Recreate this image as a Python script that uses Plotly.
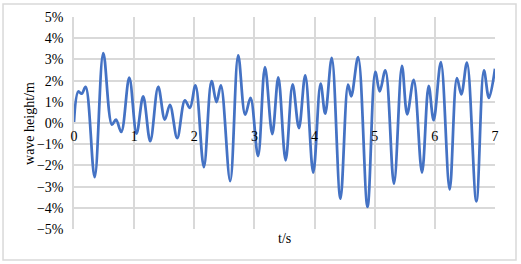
import plotly.graph_objects as go

# time (s) and wave height (%)
t = [0.0, 0.072, 0.127, 0.193, 0.343, 0.487, 0.631, 0.698, 0.786, 0.919, 1.04, 1.15,
     1.268, 1.40, 1.51, 1.595, 1.716, 1.844, 1.927, 2.02, 2.159, 2.287, 2.37, 2.442,
     2.597, 2.73, 2.846, 2.935, 3.06, 3.175, 3.297, 3.397, 3.519, 3.635, 3.74, 3.845,
     3.978, 4.10, 4.177, 4.286, 4.43, 4.557, 4.61, 4.724, 4.88, 5.01, 5.083, 5.177,
     5.32, 5.453, 5.54, 5.648, 5.786, 5.897, 5.98, 6.10, 6.246, 6.367, 6.44, 6.534,
     6.69, 6.816, 6.899, 7.0]
h = [0.05, 1.49, 1.38, 1.70, -2.55, 3.30, -0.08, 0.16, -0.42, 2.14, -0.50, 1.26,
     -0.86, 1.71, 0.16, 0.86, -0.71, 1.07, 0.71, 1.78, -2.08, 1.97, 0.99, 1.78,
     -2.74, 3.19, 0.39, 1.18, -1.56, 2.64, -0.52, 2.15, -1.76, 1.82, -0.24, 2.25,
     -2.34, 1.86, 0.44, 3.07, -3.57, 1.81, 1.26, 3.11, -3.96, 2.41, 1.49, 2.48,
     -2.86, 2.69, 0.41, 2.04, -2.34, 1.75, 0.13, 2.87, -3.13, 2.12, 1.35, 2.85,
     -3.70, 2.48, 1.18, 2.56]

x_ticks = [0, 1, 2, 3, 4, 5, 6, 7]
y_ticks = [-5, -4, -3, -2, -1, 0, 1, 2, 3, 4, 5]

FONT = "Liberation Serif"
GRID = "#d9d9d9"
FS = 14

fig = go.Figure()
fig.add_trace(go.Scatter(x=t, y=h, mode="lines",
                         line=dict(color="#4472C4", width=2.75, shape="spline", smoothing=1.0),
                         hoverinfo="skip"))

fig.update_layout(
    width=521, height=264,
    margin=dict(l=74, r=26, t=17, b=35, autoexpand=False),
    paper_bgcolor="white", plot_bgcolor="white",
    showlegend=False,
    font=dict(family=FONT, size=FS, color="#000000"),
    xaxis=dict(range=[0, 7], tickvals=x_ticks, ticktext=[str(v) for v in x_ticks],
               showgrid=True, gridcolor=GRID, gridwidth=1.5,
               zeroline=False, showline=False, ticks="",
               anchor="free", position=0.5, automargin=False,
               ticklabelstandoff=3,
               tickfont=dict(family=FONT, size=FS, color="#000000")),
    yaxis=dict(range=[-5, 5], tickvals=y_ticks,
               ticktext=[("\u2212" if v < 0 else "") + f"{abs(v)}%" for v in y_ticks],
               showgrid=True, gridcolor=GRID, gridwidth=1.5,
               zeroline=True, zerolinecolor=GRID, zerolinewidth=1.5,
               showline=True, linecolor=GRID, linewidth=1.5,
               ticks="", automargin=False, ticklabelstandoff=6,
               tickfont=dict(family=FONT, size=FS, color="#000000")),
)

fig.add_annotation(text="t/s", xref="paper", yref="paper", x=0.5, y=-0.047,
                   xanchor="center", yanchor="middle", showarrow=False,
                   font=dict(family=FONT, size=FS, color="#000000"))
fig.add_annotation(text="wave height/m", xref="paper", yref="paper", x=-0.107, y=0.5,
                   xanchor="center", yanchor="middle", textangle=-90, showarrow=False,
                   font=dict(family=FONT, size=FS, color="#000000"))

fig.add_shape(type="rect", xref="paper", yref="paper",
              x0=-0.1686, x1=1.0499, y0=-0.1462, y1=1.0613,
              line=dict(color=GRID, width=1.5), fillcolor="rgba(0,0,0,0)", layer="above")

fig.write_html("out.html", config={"displayModeBar": False},
               post_script="document.body.style.margin='0';")
